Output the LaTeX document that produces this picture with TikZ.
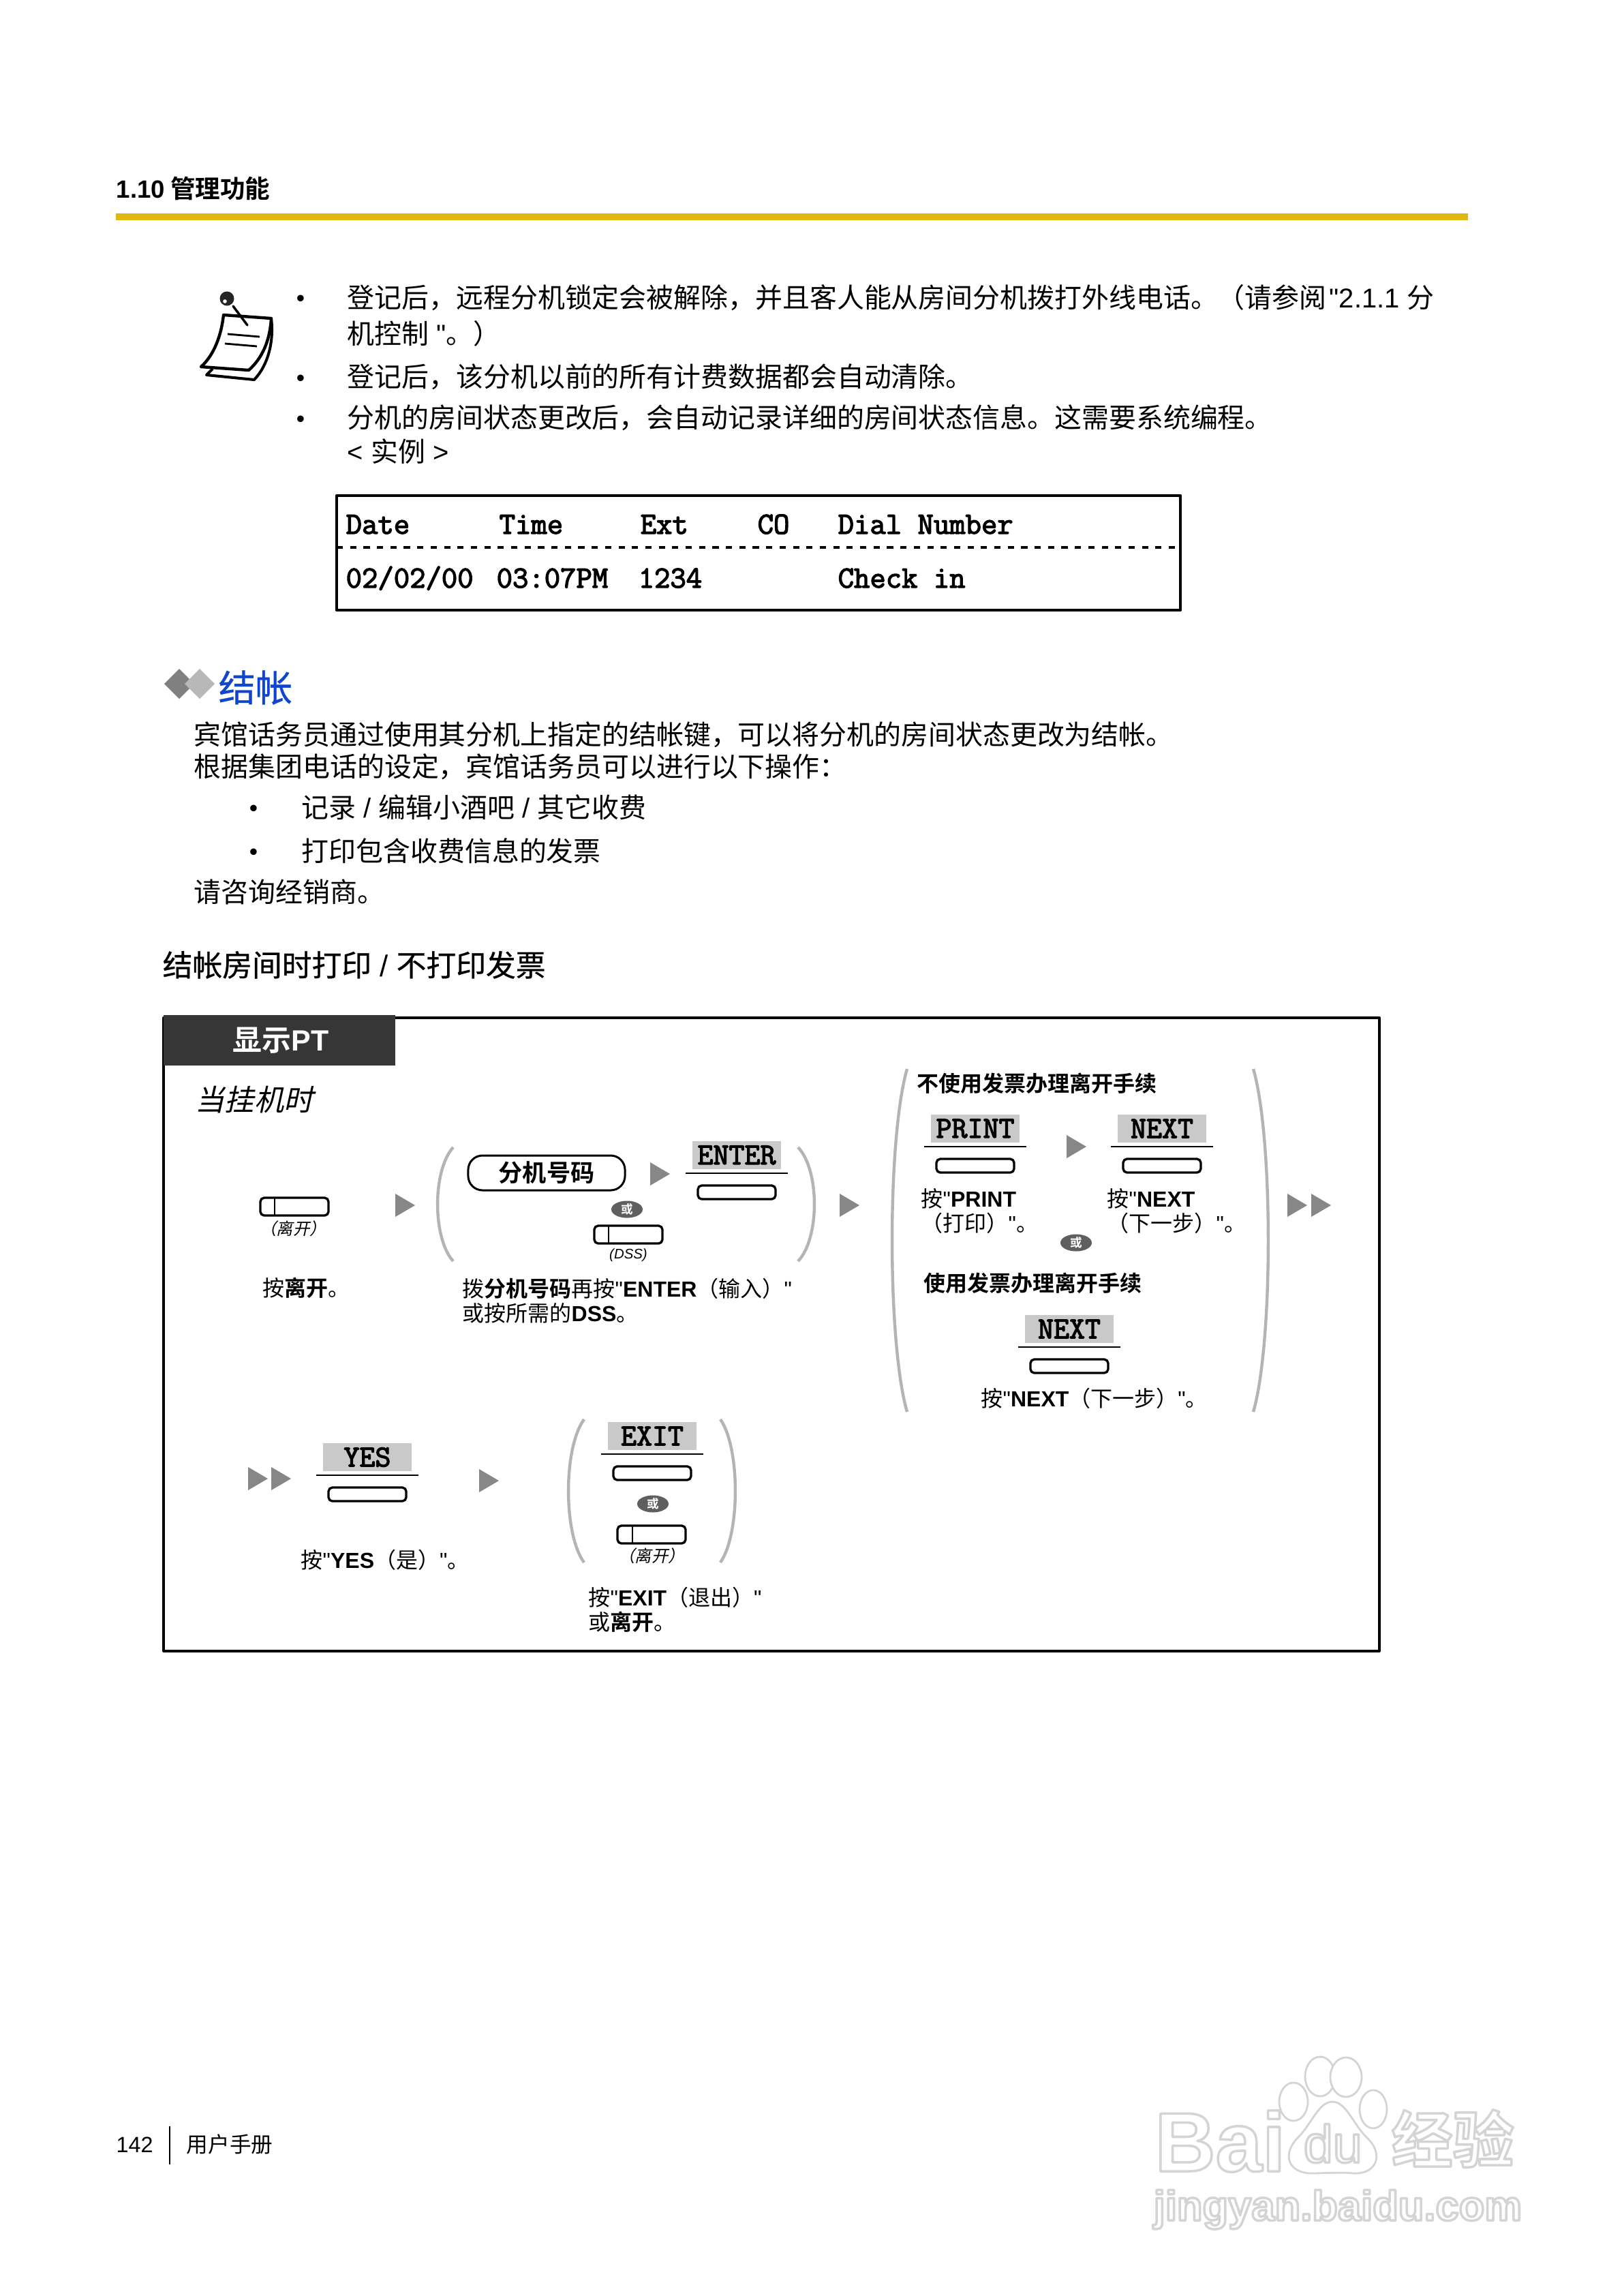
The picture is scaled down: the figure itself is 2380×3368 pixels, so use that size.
\documentclass[tikz,border=0pt]{standalone}
\usepackage{fontspec}
\usetikzlibrary{shapes.geometric}
\setmainfont{Noto Sans CJK SC}[BoldFont={Noto Sans CJK SC Bold}]
\newfontfamily\hvfont{Liberation Sans}
\newfontfamily\keyfont[FakeBold=3]{Latin Modern Mono}
\newfontfamily\cjkslant[FakeSlant=0.22]{Noto Sans CJK SC}
\newfontfamily\cjkheavy[FakeBold=0.7]{Noto Sans CJK SC}
\newcommand{\hv}[1]{{\hvfont #1}}
\newcommand{\hvb}[1]{{\hvfont\bfseries #1}}
\newcommand{\fsize}[1]{\fontsize{#1}{#1}\selectfont}
\definecolor{barcol}{HTML}{DFB80F}
\definecolor{tabcol}{HTML}{363636}
\definecolor{keycol}{HTML}{C9C9C9}
\definecolor{arrowcol}{HTML}{878787}
\definecolor{parencol}{HTML}{B4B4B4}
\definecolor{badgecol}{HTML}{5F5F5F}
\definecolor{bluecol}{HTML}{0F45D0}
\definecolor{wmcol}{HTML}{D4D4D4}
\tikzset{
    bodytext/.style={anchor=base west, inner sep=0pt, font=\fsize{11.35}},
    dotmark/.style={anchor=base, inner sep=0pt, font=\hvfont\fsize{10}},
    steptext/.style={anchor=base west, inner sep=0pt, font=\fsize{9.1}},
    tabletext/.style={anchor=base west, inner sep=0pt, font=\keyfont\fsize{12.9}},
    softlabel/.style={fill=keycol, inner sep=0pt, minimum width=1.3cm, minimum height=.41cm, font=\keyfont\fsize{12.7}},
    softline/.style={line width=.8pt},
    softbtn/.style={line width=.95pt, rounded corners=1.6pt},
    orbadge/.style={ellipse, fill=badgecol, text=white, inner sep=0pt, minimum width=.46cm, minimum height=.25cm, font=\bfseries\fsize{5}},
    leavetext/.style={inner sep=0pt, font=\cjkslant\fsize{6.9}},
    wmtext/.style={anchor=base west, inner sep=0pt, text=wmcol},
    wmshape/.style={draw=wmcol, fill=white, line width=.8pt}
}
\begin{document}
\begin{tikzpicture}[x=.01cm, y=-.01cm, line join=round]
    \useasboundingbox (0,0) rectangle (2380,3368);
    \fill[white] (0,0) rectangle (2380,3368);
    % header
    \node[anchor=base west, inner sep=0pt, font=\bfseries\fsize{10.4}] (hdr) at (170,290) {\hvb{1.10} 管理功能};
    \fill[barcol] (170,313) rectangle (2154,323);
    % note icon
    \draw[line width=1.15pt, fill=white] (398,467) .. controls (402,500) and (394,535) .. (373,557) -- (303,550) -- (312,541);
    \draw[line width=1.25pt, fill=white] (328,462) -- (398,467) .. controls (396,500) and (385,525) .. (365,543) -- (295,538) .. controls (315,520) and (325,490) .. (328,462) -- cycle;
    \draw[line width=.8pt] (334,490) -- (381,494) (330,504) -- (377,508);
    \draw[line width=1pt, line cap=round] (342,449) -- (363,477);
    \fill[black!85] (333,438) circle (10.5);
    \fill[white] (330,442) circle (2.8);
    % notes
    \node[dotmark] (dot1) at (441,449) {•};
    \node[dotmark] (dot2) at (441,566) {•};
    \node[dotmark] (dot3) at (441,626) {•};
    \node[bodytext] (note1) at (509,451) {登记后，远程分机锁定会被解除，并且客人能从房间分机拨打外线电话。（请参阅\hspace{-2pt}\hv{ "2.1.1 }分};
    \node[bodytext] (note1b) at (509,504) {机控制\hv{ "}。）};
    \node[bodytext] (note2) at (509,567) {登记后，该分机以前的所有计费数据都会自动清除。};
    \node[bodytext] (note3) at (509,627) {分机的房间状态更改后，会自动记录详细的房间状态信息。这需要系统编程。};
    \node[bodytext] (note3b) at (509,677) {\hv{< }实例\hv{ >}};
    % sample print
    \draw[line width=1.2pt] (494,727) rectangle (1732,895);
    \draw[line width=1.3pt, dash pattern=on 2.6pt off 3pt] (494,803) -- (1732,803);
    \foreach \x/\t in {507/Date, 732/Time, 939/Ext, 1111/CO, 1229/Dial Number}
        \node[tabletext] (head\x) at (\x,783) {\t};
    \foreach \x/\t in {507/02\slash 02\slash 00, 728/03:07PM, 936/1234, 1229/Check in}
        \node[tabletext] (row\x) at (\x,862) {\t};
    % check out section
    \fill[black!50] (263,981) -- (285,1003) -- (263,1025) -- (241,1003) -- cycle;
    \fill[black!28] (293,981) -- (315,1003) -- (293,1025) -- (271,1003) -- cycle;
    \node[anchor=base west, inner sep=0pt, text=bluecol, font=\cjkheavy\fsize{15.4}] (sect) at (320,1029) {结帐};
    \node[bodytext] (para1) at (284,1092) {宾馆话务员通过使用其分机上指定的结帐键，可以将分机的房间状态更改为结帐。};
    \node[bodytext] (para2) at (284,1139) {根据集团电话的设定，宾馆话务员可以进行以下操作：};
    \node[dotmark] (dot4) at (372,1197) {•};
    \node[dotmark] (dot5) at (372,1261) {•};
    \node[bodytext] (item1) at (442,1199) {记录\hv{ / }编辑小酒吧\hv{ / }其它收费};
    \node[bodytext] (item2) at (442,1263) {打印包含收费信息的发票};
    \node[bodytext] (para3) at (284,1323) {请咨询经销商。};
    \node[anchor=base west, inner sep=0pt, font=\cjkheavy\fsize{12.45}] (title) at (238,1432) {结帐房间时打印\hv{ / }不打印发票};
    % frame and tab
    \draw[line width=1.15pt] (240,1493) rectangle (2024,2422);
    \fill[tabcol] (240,1489) rectangle (580,1563);
    \node[inner sep=0pt, text=white, font=\bfseries\fsize{12.2}] (tab) at (412,1526) {显示\hvb{PT}};
    \node[anchor=base west, inner sep=0pt, font=\cjkslant\fsize{12.3}] (cond) at (286,1629) {当挂机时};
    % soft keys
    \foreach \name/\cx/\ty/\lab in {enter/1081/1674/ENTER, print/1431/1635/PRINT, nexta/1705/1635/NEXT, nextb/1569/1929/NEXT, yes/539/2117/YES, exit/957/2086/EXIT}{
        \node[softlabel] (\name) at (\cx,\ty+20.5) {\lab};
        \draw[softline] (\cx-75,\ty+47) -- (\cx+75,\ty+47);
        \draw[softbtn] (\cx-57,\ty+65) rectangle (\cx+57,\ty+85);
    }
    % flexible keys
    \foreach \x/\y/\d in {382/1757/403, 872/1798/893, 906/2238/928}{
        \draw[softbtn] (\x,\y) rectangle (\x+100,\y+26);
        \draw[line width=.7pt] (\d,\y) -- (\d,\y+26);
    }
    % brackets
    \foreach \t/\a/\ya/\yb in {665/642/1683/1850, 1171/1195/1683/1850, 1331/1309/1568/2071, 1839/1861/1568/2071, 857/834/2082/2292, 1057/1079/2082/2292}
        \draw[parencol, line width=1.25pt] (\t,\ya) .. controls ({\t+(\a-\t)*1.33},{\ya+(\yb-\ya)*.2}) and ({\t+(\a-\t)*1.33},{\yb-(\yb-\ya)*.2}) .. (\t,\yb);
    % arrows
    \foreach \x/\y in {580/1768, 954/1722, 1232/1768, 1565/1682, 1889/1768, 1924/1768, 364/2169, 398/2169, 703/2172}
        \fill[arrowcol] (\x,\y-17) -- (\x+29,\y) -- (\x,\y+17) -- cycle;
    % first row
    \node[leavetext] (leavea) at (430,1802) {（离开）};
    \node[steptext] (stepa) at (385,1901) {按{\bfseries 离开}。};
    \node[draw, line width=.85pt, rounded corners=6pt, inner sep=0pt, minimum width=2.3cm, minimum height=.51cm, font=\bfseries\fsize{10}] (extno) at (802,1720.5) {分机号码};
    \node[orbadge] (ora) at (920,1774) {或};
    \node[inner sep=0pt, font=\hvfont\itshape\fsize{5.8}] (dss) at (922,1841) {(DSS)};
    \node[steptext] (stepb) at (678,1902) {拨{\bfseries 分机号码}再按\hv{"}\hvb{ENTER}（输入）\hv{"}};
    \node[steptext] (stepc) at (678,1938) {或按所需的\hvb{DSS}。};
    \node[steptext, font=\bfseries\fsize{9.1}] (nobill) at (1345,1601) {不使用发票办理离开手续};
    \node[steptext] (stepd) at (1351,1770) {按\hv{"}\hvb{PRINT}};
    \node[steptext] (stepe) at (1351,1806) {（打印）\hv{"}。};
    \node[steptext] (stepf) at (1624,1770) {按\hv{"}\hvb{NEXT}};
    \node[steptext] (stepg) at (1624,1806) {（下一步）\hv{"}。};
    \node[orbadge] (orb) at (1579,1823) {或};
    \node[steptext, font=\bfseries\fsize{9.1}] (bill) at (1355,1894) {使用发票办理离开手续};
    \node[steptext] (steph) at (1439,2063) {按\hv{"}\hvb{NEXT}（下一步）\hv{"}。};
    % second row
    \node[steptext] (stepi) at (441,2300) {按\hv{"}\hvb{YES}（是）\hv{"}。};
    \node[orbadge] (orc) at (958,2206) {或};
    \node[leavetext] (leaveb) at (956,2282) {（离开）};
    \node[steptext] (stepj) at (863,2355) {按\hv{"}\hvb{EXIT}（退出）\hv{"}};
    \node[steptext] (stepk) at (863,2391) {或{\bfseries 离开}。};
    % footer
    \node[anchor=base west, inner sep=0pt, font=\hvfont\fsize{9.2}] (page) at (170,3157) {142};
    \draw[line width=.6pt] (249,3119) -- (249,3175);
    \node[anchor=base west, inner sep=0pt, font=\fsize{9}] (manual) at (273,3157) {用户手册};
    % watermark
    \foreach \x/\y/\rx/\ry in {1898/3083/21/28, 1937/3046/22/29, 1975/3047/23/29, 2015/3094/20/28}
        \draw[wmshape] (\x,\y) ellipse (\rx cm*.01 and \ry cm*.01);
    \draw[wmshape] (1955,3083) .. controls (1935,3083) and (1925,3115) .. (1905,3135) .. controls (1880,3160) and (1890,3188) .. (1925,3188) .. controls (1940,3188) and (1970,3186) .. (1985,3188) .. controls (2020,3190) and (2032,3160) .. (2005,3135) .. controls (1985,3115) and (1975,3083) .. (1955,3083) -- cycle;
    \node[wmtext, font=\hvfont\bfseries\fsize{35}] (wmbai) at (1694,3185) {\special{pdf:code 1 Tr 1 w}Bai\special{pdf:code 0 Tr}};
    \node[wmtext, font=\hvfont\fsize{22}] (wmdu) at (1912,3172) {\special{pdf:code 1 Tr 1 w}du\special{pdf:code 0 Tr}};
    \node[wmtext, font=\bfseries\fsize{25.6}] (wmjy) at (2041,3172) {\special{pdf:code 1 Tr 1 w}经验\special{pdf:code 0 Tr}};
    \node[wmtext, font=\hvfont\bfseries\fsize{17.5}] (wmurl) at (1692,3257) {\special{pdf:code 1 Tr 1 w}jingyan.baidu.com\special{pdf:code 0 Tr}};
\end{tikzpicture}
\end{document}
